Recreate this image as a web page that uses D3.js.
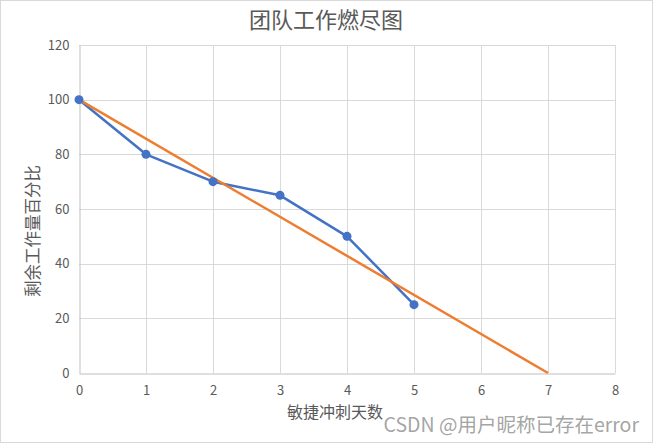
<!DOCTYPE html>
<html><head><meta charset="utf-8">
<script src="https://cdn.jsdelivr.net/npm/d3@7"></script>
<style>html,body{margin:0;padding:0;background:#fff;}svg{display:block;}</style>
</head><body>
<svg id="c" width="653" height="443"></svg>
<script>
const title = "团队工作燃尽图";
const xTitle = "敏捷冲刺天数";
const yTitle = "剩余工作量百分比";
const watermark = "CSDN @用户昵称已存在error";
const actualDays = [0, 1, 2, 3, 4, 5];
const actualValues = [100, 80, 70, 65, 50, 25];
const idealDays = [0, 7];
const idealValues = [100, 0];
const xTicks = [0, 1, 2, 3, 4, 5, 6, 7, 8];
const yTicks = [0, 20, 40, 60, 80, 100, 120];

const svg = d3.select("#c");
const W = 653, H = 443;
const m = {l: 79, r: 653 - 615, t: 45, b: 443 - 373};
const font = "'Microsoft YaHei','Noto Sans CJK SC',sans-serif";
svg.append("rect").attr("x", 0.5).attr("y", 0.5).attr("width", W - 1).attr("height", H - 1)
  .attr("fill", "#fff").attr("stroke", "#d9d9d9");

const x = d3.scaleLinear().domain([0, 8]).range([m.l, W - m.r]);
const y = d3.scaleLinear().domain([0, 120]).range([H - m.b, m.t]);

const g = svg.append("g");
g.selectAll(".hg").data(yTicks.filter(d => d > 0)).join("line")
  .attr("x1", x(0)).attr("x2", x(8)).attr("y1", d => Math.round(y(d)) + 0.5).attr("y2", d => Math.round(y(d)) + 0.5)
  .attr("stroke", "#d9d9d9").attr("stroke-width", 1);
g.selectAll(".vg").data(xTicks.filter(d => d > 0)).join("line")
  .attr("y1", y(0)).attr("y2", y(120)).attr("x1", d => Math.round(x(d)) + 0.5).attr("x2", d => Math.round(x(d)) + 0.5)
  .attr("stroke", "#d9d9d9").attr("stroke-width", 1);

const xa = svg.append("g").attr("transform", `translate(0,${Math.round(y(0)) + 0.5})`)
  .call(d3.axisBottom(x).tickValues(xTicks).tickSize(0).tickPadding(12));
const ya = svg.append("g").attr("transform", `translate(${Math.round(x(0)) + 0.5},0)`)
  .call(d3.axisLeft(y).tickValues(yTicks).tickSize(0).tickPadding(10));
[xa, ya].forEach(a => {
  a.select(".domain").attr("stroke", "#bfbfbf").attr("stroke-width", 1);
  a.selectAll("text").attr("fill", "#595959").style("font-size", "13px").style("font-family", font);
});

const line = d3.line().x(d => x(d[0])).y(d => y(d[1]));
const actual = actualDays.map((d, i) => [d, actualValues[i]]);
const ideal = idealDays.map((d, i) => [d, idealValues[i]]);
svg.append("path").datum(actual).attr("d", line).attr("fill", "none")
  .attr("stroke", "#4472c4").attr("stroke-width", 2.5).attr("stroke-linejoin", "round");
svg.append("path").datum(ideal).attr("d", line).attr("fill", "none")
  .attr("stroke", "#ed7d31").attr("stroke-width", 2.5);
svg.selectAll(".pt").data(actual).join("circle")
  .attr("cx", d => x(d[0])).attr("cy", d => y(d[1])).attr("r", 4.5).attr("fill", "#4472c4");

svg.append("text").attr("x", 326).attr("y", 28).attr("text-anchor", "middle")
  .attr("fill", "#595959").style("font-size", "22px").style("font-family", font).text(title);
svg.append("text").attr("x", 335).attr("y", 418).attr("text-anchor", "middle")
  .attr("fill", "#595959").style("font-size", "16px").style("font-family", font).text(xTitle);
svg.append("text").attr("transform", `translate(39,231) rotate(-90)`).attr("text-anchor", "middle")
  .attr("fill", "#595959").style("font-size", "16.5px").style("font-family", font).text(yTitle);
svg.append("text").attr("x", 639).attr("y", 432).attr("text-anchor", "end")
  .attr("fill", "#999").attr("fill-opacity", 0.9).style("font-size", "19.5px").style("font-family", font).text(watermark);
</script>
</body></html>
